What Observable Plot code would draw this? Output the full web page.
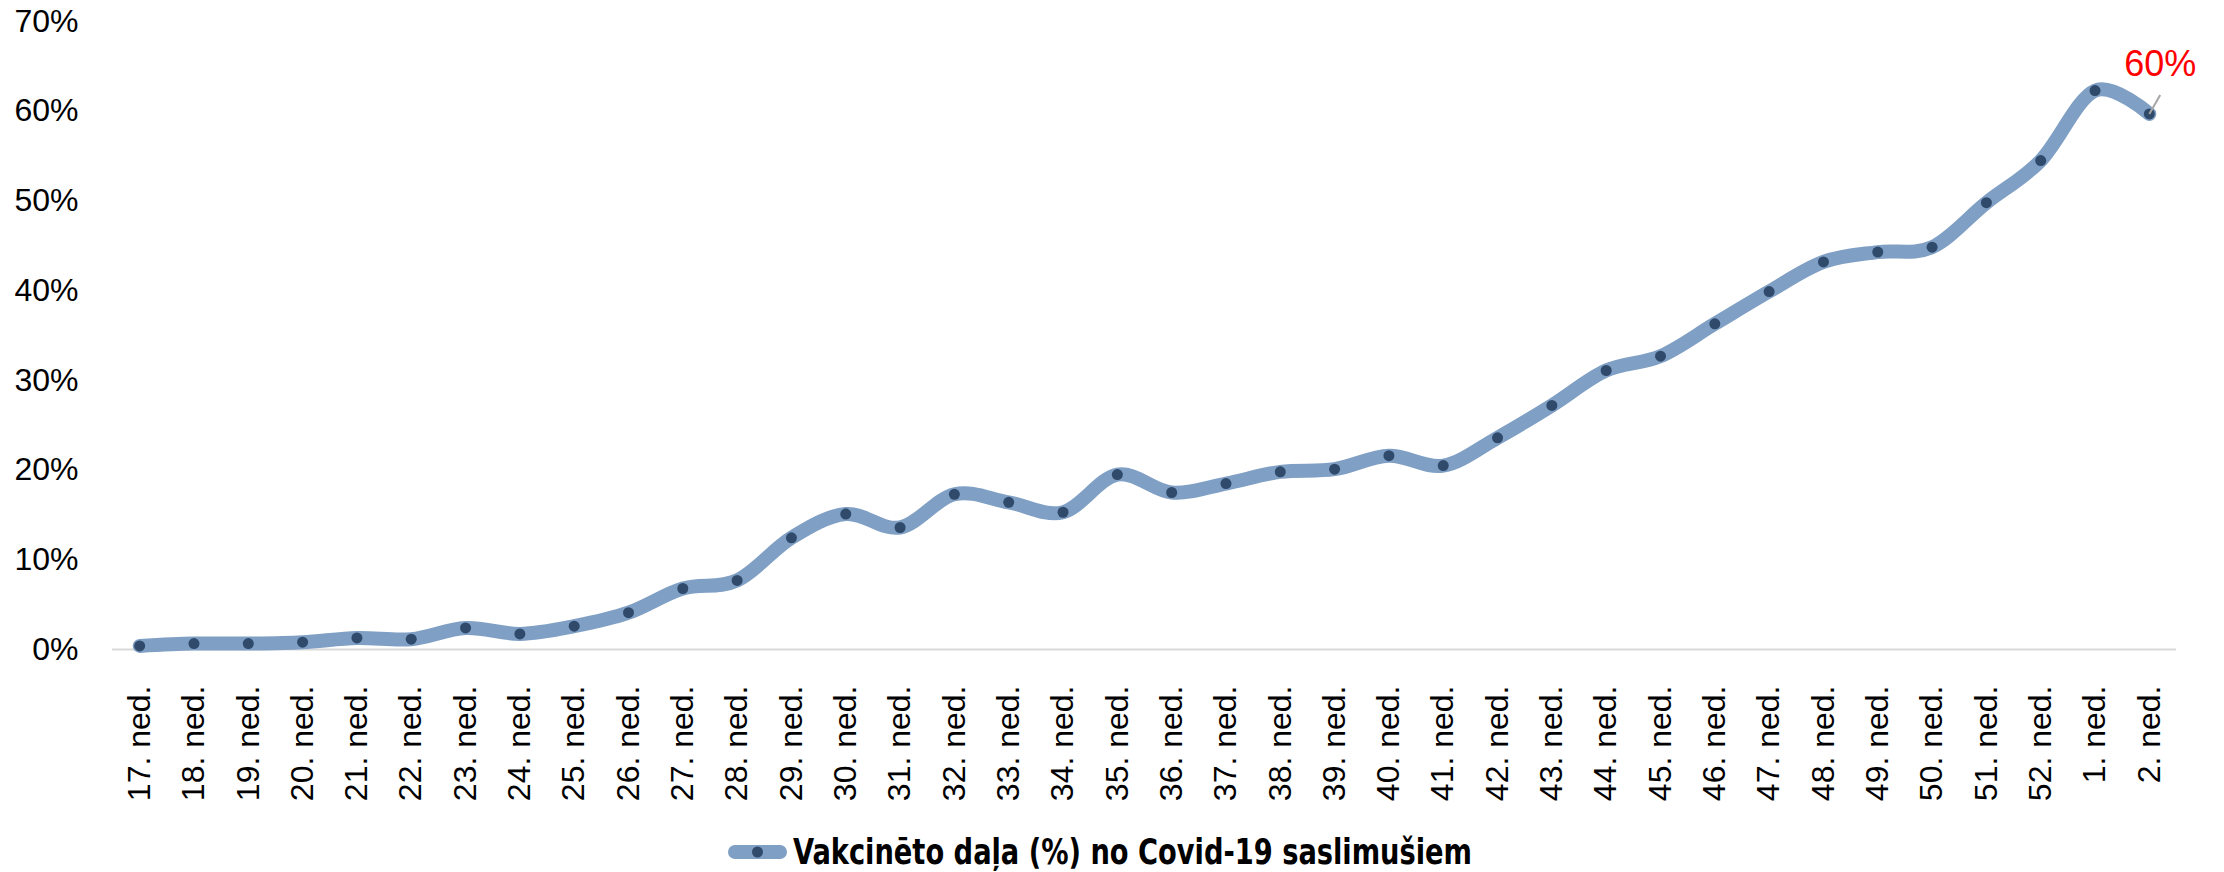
<!DOCTYPE html>
<html>
<head>
<meta charset="utf-8">
<script src="https://cdn.jsdelivr.net/npm/d3@7"></script>
<script src="https://cdn.jsdelivr.net/npm/@observablehq/plot@0.6"></script>
<style>
  html, body { margin: 0; padding: 0; background: #fff; }
  #chart svg, #legend { display: block; }
</style>
</head>
<body>
<div id="chart"></div>
<svg id="legend" width="2224" height="52"></svg>
<script>
// Week labels (ISO weeks 17–52, then 1–2 of the next year)
const weeks = [
  "17. ned.", "18. ned.", "19. ned.", "20. ned.", "21. ned.", "22. ned.",
  "23. ned.", "24. ned.", "25. ned.", "26. ned.", "27. ned.", "28. ned.",
  "29. ned.", "30. ned.", "31. ned.", "32. ned.", "33. ned.", "34. ned.",
  "35. ned.", "36. ned.", "37. ned.", "38. ned.", "39. ned.", "40. ned.",
  "41. ned.", "42. ned.", "43. ned.", "44. ned.", "45. ned.", "46. ned.",
  "47. ned.", "48. ned.", "49. ned.", "50. ned.", "51. ned.", "52. ned.",
  "1. ned.", "2. ned."
];

// Share of vaccinated people among Covid-19 cases, %
const shares = [
  0.4, 0.66, 0.66, 0.81, 1.29, 1.15, 2.4, 1.74, 2.6, 4.1,
  6.8, 7.7, 12.45, 15.1, 13.6, 17.3, 16.4, 15.3, 19.5, 17.5,
  18.5, 19.8, 20.1, 21.6, 20.5, 23.6, 27.2, 31.1, 32.7, 36.3,
  39.9, 43.2, 44.3, 44.85, 49.8, 54.5, 62.3, 59.7
];

const yTicks = [0, 10, 20, 30, 40, 50, 60, 70];
const seriesName = "Vakcinēto daļa (%) no Covid-19 saslimušiem";

const lineColor = "#7f9fc4";
const dotColor = "#2f4a6b";

const rows = weeks.map((week, i) => ({ i, week, share: shares[i] }));
const last = rows.slice(-1);

const chart = Plot.plot({
  width: 2224,
  height: 820,
  marginLeft: 112,
  marginRight: 48,
  marginTop: 21,
  marginBottom: 171,
  style: { fontFamily: "'Liberation Sans', Arial, sans-serif", color: "#000", background: "#fff" },
  x: { type: "linear", domain: [-0.5, weeks.length - 0.5] },
  y: { domain: [0, 70] },
  marks: [
    Plot.ruleY([0], { stroke: "#d9d9d9", strokeWidth: 2 }),
    Plot.axisY(yTicks, {
      tickSize: 0, tickPadding: 34, fontSize: 32,
      tickFormat: d => d + "%", label: null
    }),
    Plot.axisX(d3.range(weeks.length), {
      tickSize: 0, tickRotate: -90, tickPadding: 36, fontSize: 32,
      tickFormat: i => weeks[i], label: null
    }),
    Plot.line(rows, {
      x: "i", y: "share", curve: "cardinal",
      stroke: lineColor, strokeWidth: 14,
      strokeLinecap: "round", strokeLinejoin: "round"
    }),
    Plot.dot(rows, { x: "i", y: "share", r: 5.5, fill: dotColor }),
    // leader line and value label for the latest week
    Plot.link(last, {
      x1: "i", y1: "share",
      x2: d => d.i + 0.2, y2: d => d.share + 2.1,
      stroke: "#a6a6a6", strokeWidth: 2
    }),
    Plot.text(last, {
      x: "i", y: "share",
      text: d => Math.round(d.share) + "%",
      dx: 11, dy: -49, fill: "#ff0000", fontSize: 36
    })
  ]
});
document.getElementById("chart").append(chart);

// Legend: line swatch with marker, then series name
const legend = d3.select("#legend");
const ly = 32;
legend.append("line")
  .attr("x1", 735).attr("x2", 780).attr("y1", ly).attr("y2", ly)
  .attr("stroke", lineColor).attr("stroke-width", 14).attr("stroke-linecap", "round");
legend.append("circle")
  .attr("cx", 757.5).attr("cy", ly).attr("r", 5.5).attr("fill", dotColor);
legend.append("text")
  .attr("x", 793).attr("y", ly + 12)
  .attr("font-family", "'Liberation Sans Narrow', 'DejaVu Sans Condensed', sans-serif")
  .attr("font-weight", "bold")
  .attr("font-size", 35)
  .attr("textLength", 679)
  .attr("lengthAdjust", "spacingAndGlyphs")
  .attr("fill", "#000")
  .text(seriesName);
</script>
</body>
</html>
